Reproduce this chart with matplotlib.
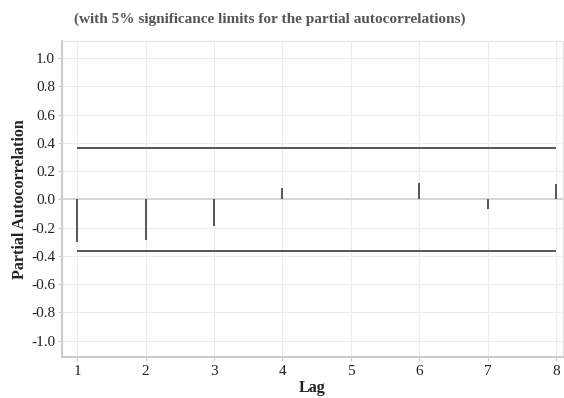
import matplotlib
matplotlib.use("Agg")
import matplotlib.pyplot as plt

lags = [1, 2, 3, 4, 5, 6, 7, 8]
pacf = [-0.30, -0.29, -0.185, 0.077, 0.004, 0.115, -0.07, 0.11]
limit = 0.365
y_ticks = [1.0, 0.8, 0.6, 0.4, 0.2, 0.0, -0.2, -0.4, -0.6, -0.8, -1.0]

plt.rcParams["font.family"] = ["Liberation Serif", "DejaVu Serif"]

fig = plt.figure(figsize=(5.64, 3.98), dpi=100)
ax = fig.add_axes([0.110, 0.103, 0.888, 0.794])

ax.axhline(0, color="#d0d0d0", lw=1.2, zorder=1)
ax.vlines(lags, 0, pacf, color="#555555", lw=1.4, zorder=3)
ax.hlines([limit, -limit], lags[0], lags[-1], color="#555555", lw=1.4, zorder=3)

ax.set_xlim(0.78, 8.1)
ax.set_ylim(-1.115, 1.12)
ax.set_xticks(lags)
ax.set_yticks(y_ticks)
ax.set_yticklabels([f"{v:.1f}" for v in y_ticks])
ax.grid(color="#ececec", lw=0.8, zorder=0)
ax.set_axisbelow(True)

for side in ("top", "right"):
    ax.spines[side].set_color("#e0e0e0")
    ax.spines[side].set_linewidth(0.8)
for side in ("left", "bottom"):
    ax.spines[side].set_color("#cccccc")
    ax.spines[side].set_linewidth(1.5)

ax.tick_params(axis="both", colors="#cccccc", labelcolor="#222222", labelsize=11, length=3)
ax.tick_params(axis="y", pad=2)
ax.tick_params(axis="x", pad=3)

ax.set_xlabel("Lag", fontsize=11.5, fontweight="bold", color="#222222", labelpad=1)
ax.set_ylabel("Partial Autocorrelation", fontsize=11.5, fontweight="bold", color="#222222", labelpad=2)
ax.set_title("(with 5% significance limits for the partial autocorrelations)",
             fontsize=11, fontweight="bold", color="#555555", pad=13, x=0.415)

fig.savefig("out.png", dpi=100)
